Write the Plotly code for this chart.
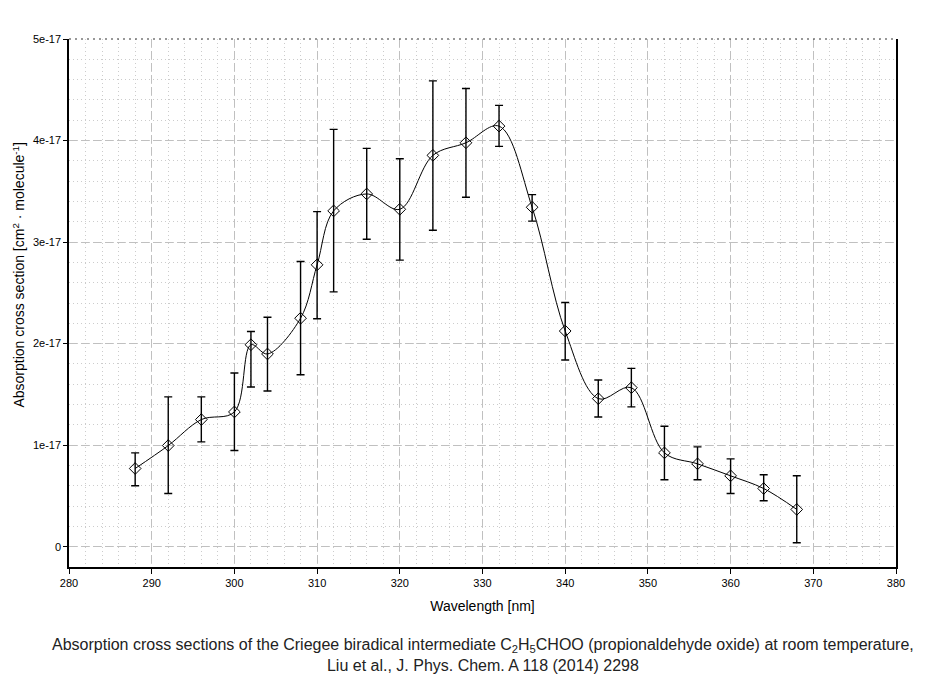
import plotly.graph_objects as go

wavelength = [288, 292, 296, 300, 302, 304, 308, 310, 312, 316, 320, 324, 328, 332,
              336, 340, 344, 348, 352, 356, 360, 364, 368]
sigma = [0.77, 0.996, 1.252, 1.327, 1.989, 1.898, 2.25, 2.776, 3.307, 3.474, 3.323, 3.854,
         3.978, 4.142, 3.343, 2.124, 1.458, 1.566, 0.924, 0.816, 0.698, 0.573, 0.367]
err_top = [0.924, 1.475, 1.475, 1.711, 2.12, 2.26, 2.808, 3.30, 4.11, 3.923, 3.821, 4.588,
           4.513, 4.346, 3.467, 2.405, 1.642, 1.756, 1.186, 0.983, 0.865, 0.708, 0.698]
err_bot = [0.60, 0.524, 1.032, 0.947, 1.573, 1.534, 1.694, 2.245, 2.51, 3.028, 2.822, 3.117,
           3.441, 3.943, 3.206, 1.839, 1.278, 1.377, 0.659, 0.659, 0.524, 0.452, 0.039]
scale = 1e-17
y_tick_vals = [0, 1, 2, 3, 4, 5]
y_tick_text = ["0", "1e-17", "2e-17", "3e-17", "4e-17", "5e-17"]
x_tick_vals = [280, 290, 300, 310, 320, 330, 340, 350, 360, 370, 380]

y = [v * scale for v in sigma]
plus = [(t - v) * scale for t, v in zip(err_top, sigma)]
minus = [(v - b) * scale for b, v in zip(err_bot, sigma)]

FONT = "Liberation Sans, Arial, sans-serif"

fig = go.Figure()
fig.add_trace(go.Scatter(
    x=wavelength, y=y, mode="lines+markers",
    line=dict(color="black", width=1, shape="spline", smoothing=1.0),
    marker=dict(symbol="diamond-open", size=9, color="black", line=dict(width=1, color="black")),
    error_y=dict(type="data", symmetric=False, array=plus, arrayminus=minus,
                 color="black", thickness=1.4, width=4),
    showlegend=False,
))

fig.update_layout(
    width=926, height=672,
    paper_bgcolor="white", plot_bgcolor="white",
    margin=dict(l=61, r=38, t=31, b=113),
    font=dict(family=FONT, size=11, color="black"),
    shapes=[dict(type="line", xref="paper", yref="paper", x0=0, x1=1, y0=1, y1=1,
                 line=dict(color="#333333", width=1, dash="2px,4px"))],
    annotations=[
        dict(text="Absorption cross sections of the Criegee biradical intermediate C<sub>2</sub>H<sub>5</sub>CHOO (propionaldehyde oxide) at room temperature,<br>Liu et al., J. Phys. Chem. A 118 (2014) 2298",
             xref="paper", yref="paper", x=0.5, y=-0.126, xanchor="center", yanchor="top",
             showarrow=False, font=dict(family=FONT, size=16, color="#222222"), align="center"),
        dict(text="Absorption cross section [cm<sup>2</sup> · molecule<sup>-1</sup>]",
             xref="paper", yref="paper", x=-0.061, y=0.553, xanchor="center", yanchor="middle",
             textangle=-90, showarrow=False, font=dict(family=FONT, size=14, color="black")),
    ],
)

fig.update_xaxes(
    range=[280, 380], tickvals=x_tick_vals, ticks="outside", ticklen=5, tickcolor="black",
    showline=True, linecolor="black", linewidth=1.5, zeroline=False,
    showgrid=True, gridcolor="#c0c0c0", griddash="8px,4px", gridwidth=1,
    minor=dict(dtick=2, showgrid=True, gridcolor="#cccccc", griddash="1px,3px", ticks=""),
    title=dict(text="Wavelength [nm]", font=dict(size=14), standoff=13),
)
fig.update_yaxes(
    range=[-0.2 * scale, 5 * scale],
    tickvals=[v * scale for v in y_tick_vals], ticktext=y_tick_text,
    ticks="outside", ticklen=4, tickcolor="black",
    showline=True, linecolor="black", linewidth=1.5, mirror=True, zeroline=False,
    showgrid=True, gridcolor="#c0c0c0", griddash="8px,4px", gridwidth=1,
    minor=dict(dtick=0.2 * scale, tick0=0, showgrid=True, gridcolor="#cccccc", griddash="1px,3px", ticks=""),
)

fig.write_html("out.html")
